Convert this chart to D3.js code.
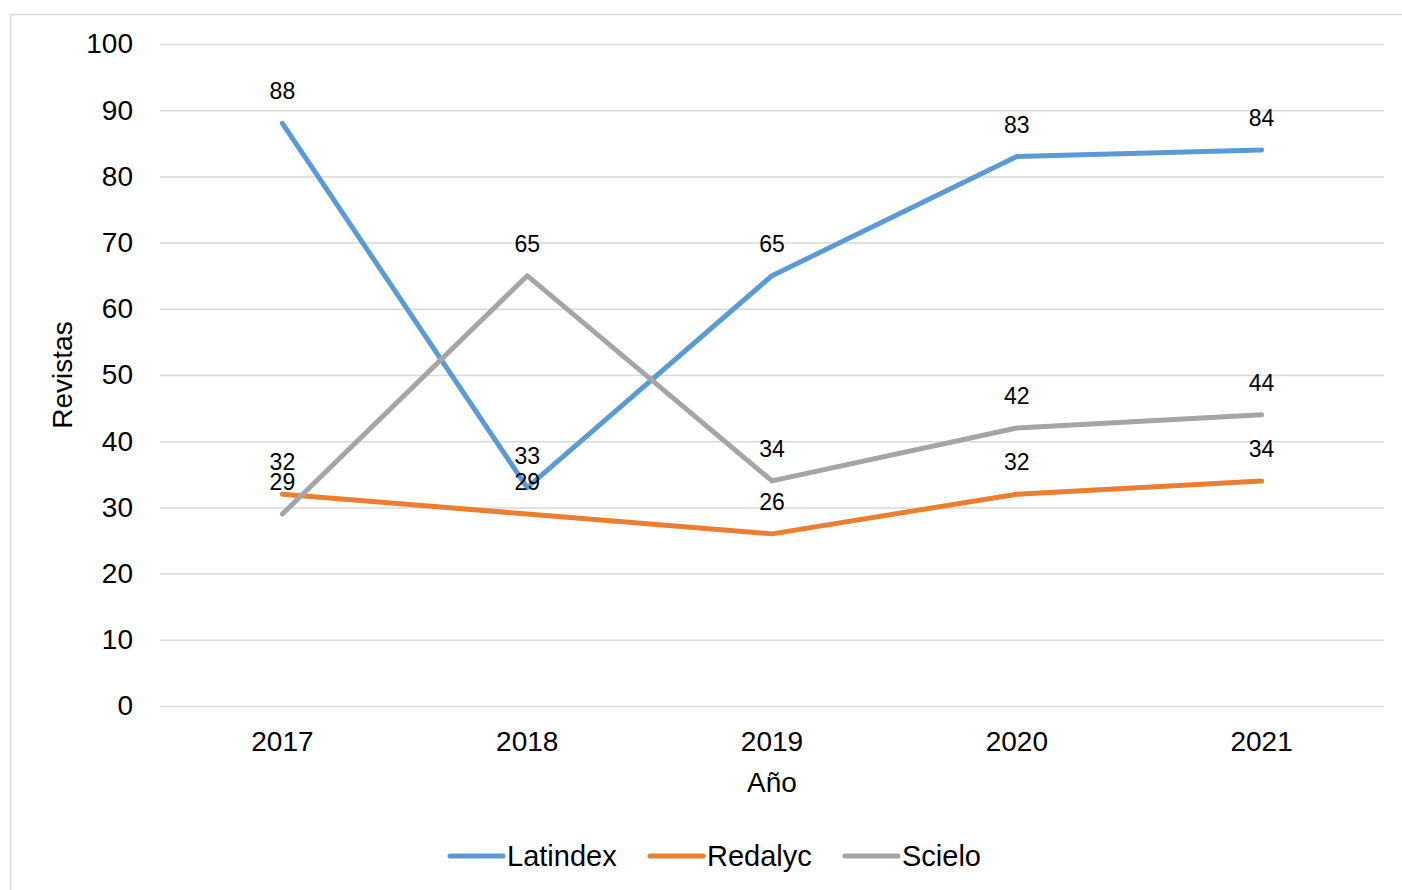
<!DOCTYPE html>
<html><head><meta charset="utf-8">
<script src="https://cdn.jsdelivr.net/npm/d3@7"></script>
<style>body{margin:0;background:#fff}svg{display:block;font-family:Arial,"Liberation Sans",sans-serif}</style>
</head><body><svg id="c" width="1402" height="890"></svg>
<script>
const years = ["2017","2018","2019","2020","2021"];
const latindex = [88,33,65,83,84];
const redalyc = [32,29,26,32,34];
const scielo = [29,65,34,42,44];
const seriesNames = ["Latindex","Redalyc","Scielo"];
const seriesColors = ["#5B9BD5","#ED7D31","#A5A5A5"];
const yTicks = [0,10,20,30,40,50,60,70,80,90,100];

const series = [latindex, redalyc, scielo].map((v,i)=>({name:seriesNames[i], color:seriesColors[i], values:v}));
const svg = d3.select("#c");
svg.append("rect").attr("x",10.5).attr("y",14.5).attr("width",1420).attr("height",900).attr("fill","#fff").attr("stroke","#d9d9d9").attr("stroke-width",1.5);

const L=160,R=1384,T=44,B=706;
const x = d3.scaleBand().domain(years).range([L,R]);
const y = d3.scaleLinear().domain([0,100]).range([B,T]);

const g = svg.append("g");
g.selectAll("line.grid").data(yTicks).join("line").attr("class","grid")
 .attr("x1",L).attr("x2",R).attr("y1",d=>y(d)+0.5).attr("y2",d=>y(d)+0.5)
 .attr("stroke","#d9d9d9").attr("stroke-width",1.5);

const yAxis = svg.append("g").attr("transform",`translate(${L},0)`).call(d3.axisLeft(y).tickValues(yTicks).tickSize(0).tickPadding(27));
yAxis.select(".domain").remove();
yAxis.selectAll("text").attr("font-size",28).attr("fill","#000").attr("font-family","Arial, Liberation Sans, sans-serif");

const xAxis = svg.append("g").attr("transform",`translate(0,${B})`).call(d3.axisBottom(x).tickSize(0).tickPadding(25));
xAxis.select(".domain").remove();
xAxis.selectAll("text").attr("font-size",28).attr("fill","#000").attr("font-family","Arial, Liberation Sans, sans-serif");

svg.append("text").attr("x",(L+R)/2).attr("y",792).attr("text-anchor","middle").attr("font-size",28).text("Año");
svg.append("text").attr("transform","translate(72,375) rotate(-90)").attr("text-anchor","middle").attr("font-size",28).text("Revistas");

const line = d3.line().x((d,i)=>x(years[i])+x.bandwidth()/2).y(d=>y(d));
series.forEach(s=>{
  svg.append("path").datum(s.values).attr("d",line).attr("fill","none").attr("stroke",s.color)
   .attr("stroke-width",5).attr("stroke-linecap","round").attr("stroke-linejoin","round");
});
series.forEach(s=>{
  svg.selectAll(null).data(s.values).join("text")
   .attr("x",(d,i)=>x(years[i])+x.bandwidth()/2).attr("y",d=>y(d)-24)
   .attr("text-anchor","middle").attr("font-size",23).text(d=>d);
});

const lx=[450,650,845];
series.forEach((s,i)=>{
  svg.append("line").attr("x1",lx[i]).attr("x2",lx[i]+53).attr("y1",856).attr("y2",856)
   .attr("stroke",s.color).attr("stroke-width",5).attr("stroke-linecap","round");
  svg.append("text").attr("x",lx[i]+57).attr("y",866).attr("font-size",29).text(s.name);
});
</script></body></html>
